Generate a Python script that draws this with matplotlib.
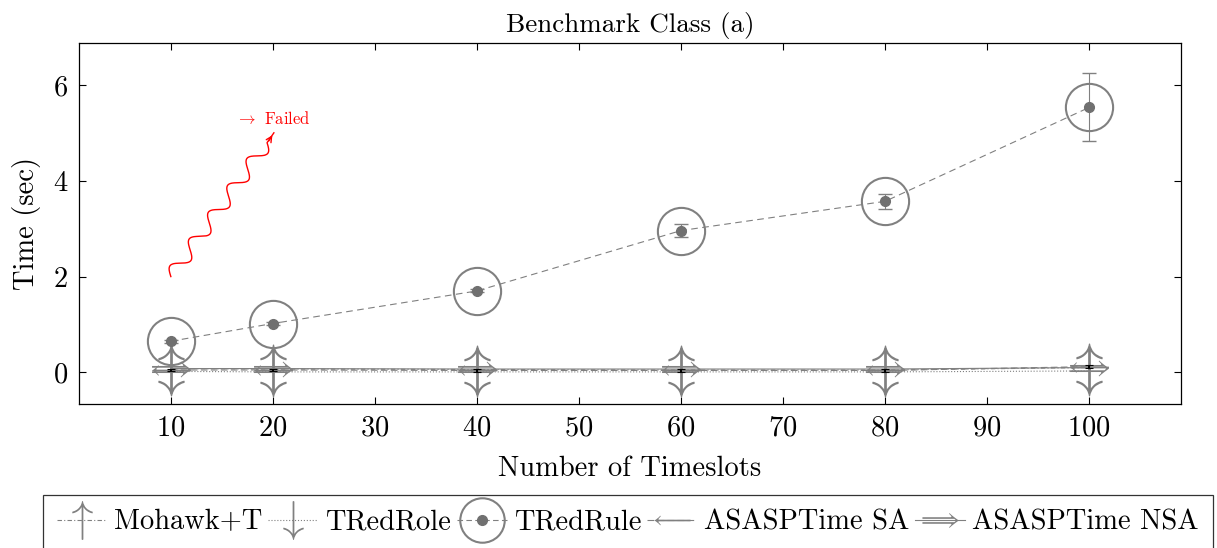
import numpy as np
import matplotlib
matplotlib.use("Agg")
import matplotlib.pyplot as plt
from matplotlib.lines import Line2D
from matplotlib.legend_handler import HandlerTuple

plt.rcParams['font.family'] = ['cmr10', 'DejaVu Serif']
plt.rcParams['mathtext.fontset'] = 'cm'
plt.rcParams['axes.formatter.use_mathtext'] = True

# data
timeslots = [10, 20, 40, 60, 80, 100]
mohawk = [0.08, 0.07, 0.06, 0.05, 0.05, 0.10]
tredrole = [0.02, 0.01, 0.01, 0.01, 0.01, 0.03]
tredrule = [0.65, 1.02, 1.70, 2.96, 3.57, 5.53]
tredrule_err = [0.03, 0.03, 0.03, 0.13, 0.15, 0.71]
asasp_sa = [0.05, 0.05, 0.04, 0.04, 0.04, 0.12]
asasp_nsa = [0.08, 0.08, 0.07, 0.07, 0.07, 0.10]
xticks = [10, 20, 30, 40, 50, 60, 70, 80, 90, 100]
yticks = [0, 2, 4, 6]

GRAY = '#808080'
FS = 20.5

fig = plt.figure(figsize=(12.17, 5.48), dpi=100)
ax = fig.add_axes([79 / 1217, 1 - 404 / 548, (1181 - 79) / 1217, (404 - 43) / 548])

# small series
ax.plot(timeslots, mohawk, color=GRAY, lw=0.8, ls=(0, (4, 2, 1, 2)),
        marker=r'$\uparrow$', ms=36, mec='none', mfc=GRAY, mew=0)
ax.plot(timeslots, tredrole, color=GRAY, lw=0.8, ls=':',
        marker=r'$\downarrow$', ms=36, mec='none', mfc=GRAY, mew=0)
ax.plot(timeslots, asasp_sa, color=GRAY, lw=0.8, ls=(0, (6, 3)),
        marker=r'$\longleftarrow$', ms=28, mec='none', mfc=GRAY, mew=0)
ax.plot(timeslots, asasp_nsa, color=GRAY, lw=0.8, ls='-',
        marker=r'$\Longrightarrow$', ms=28, mec='none', mfc=GRAY, mew=0)
ax.errorbar(timeslots, asasp_sa, yerr=0.03, fmt='none', ecolor='black',
            elinewidth=1.5, capsize=3, capthick=0.8)

# TRedRule
ax.errorbar(timeslots, tredrule, yerr=tredrule_err, fmt='none', ecolor=GRAY,
            elinewidth=0.8, capsize=5, capthick=1)
ax.plot(timeslots, tredrule, color=GRAY, lw=0.8, ls=(0, (6, 4)),
        marker='o', ms=34, mfc='none', mec=GRAY, mew=1.5)
ax.plot(timeslots, tredrule, ls='none', marker='o', ms=7, color='#707070')

ax.set_xlim(1, 109)
ax.set_ylim(-0.66, 6.875)
ax.set_xticks(xticks)
ax.set_yticks(yticks)
ax.tick_params(labelsize=FS, direction='in', length=5, width=0.8,
               top=True, right=True, pad=8)
for s in ax.spines.values():
    s.set_linewidth(0.9)

ax.set_xlabel('Number of Timeslots', fontsize=FS, labelpad=10)
ax.set_ylabel('Time (sec)', fontsize=FS, labelpad=8)
ax.set_title('Benchmark Class (a)', fontsize=19.5, pad=8)

# red snake arrow to "Failed"
x0, y0, x1, y1 = 10, 2.0, 20.1, 5.0
p0 = ax.transData.transform((x0, y0))
p1 = ax.transData.transform((x1, y1))
d = p1 - p0
L = np.hypot(*d)
u = d / L
n = np.array([-u[1], u[0]])
t = np.linspace(0, L - 12, 400)
wave = 7 * np.sin(2 * np.pi * t / 33)
pts = p0 + np.outer(t, u) + np.outer(wave, n)
pts = np.vstack([pts, p1])
dpts = ax.transData.inverted().transform(pts)
ax.plot(dpts[:, 0], dpts[:, 1], color='red', lw=1.0)
ax.annotate('', xy=(x1, y1), xytext=dpts[-3],
            arrowprops=dict(arrowstyle='->', color='red', lw=1.0))
ax.text(16.4, 5.3, r'$\rightarrow$ Failed', color='red', fontsize=12,
        ha='left', va='center')

# legend
def mk(marker, ls, ms):
    return Line2D([], [], color=GRAY, lw=0.8, ls=ls, marker=marker, ms=ms,
                  mec='none', mfc=GRAY, mew=0)

h_rule = (Line2D([], [], color=GRAY, lw=0.8, ls=(0, (5, 3)), marker='o', ms=32,
                 mfc='none', mec=GRAY, mew=1.5),
          Line2D([], [], ls='none', marker='o', ms=7, color='#707070'))
handles = [mk(r'$\uparrow$', (0, (4, 2, 1, 2)), 28),
           mk(r'$\downarrow$', ':', 28),
           h_rule,
           mk(r'$\longleftarrow$', (0, (6, 3)), 26),
           mk(r'$\Longrightarrow$', '-', 26)]
labels = ['Mohawk+T', 'TRedRole', 'TRedRule', 'ASASPTime SA', 'ASASPTime NSA']
leg = fig.legend(handles, labels, loc='upper center', ncol=5,
                 bbox_to_anchor=(628 / 1217, 1 - 495 / 548), fontsize=20.5,
                 frameon=True, fancybox=False, edgecolor='black',
                 handlelength=1.75, handletextpad=0.25, columnspacing=0.2,
                 borderpad=0.5, borderaxespad=0,
                 handler_map={tuple: HandlerTuple(ndivide=1, pad=0)})
leg.get_frame().set_linewidth(0.9)

fig.savefig('out.png', dpi=100)
